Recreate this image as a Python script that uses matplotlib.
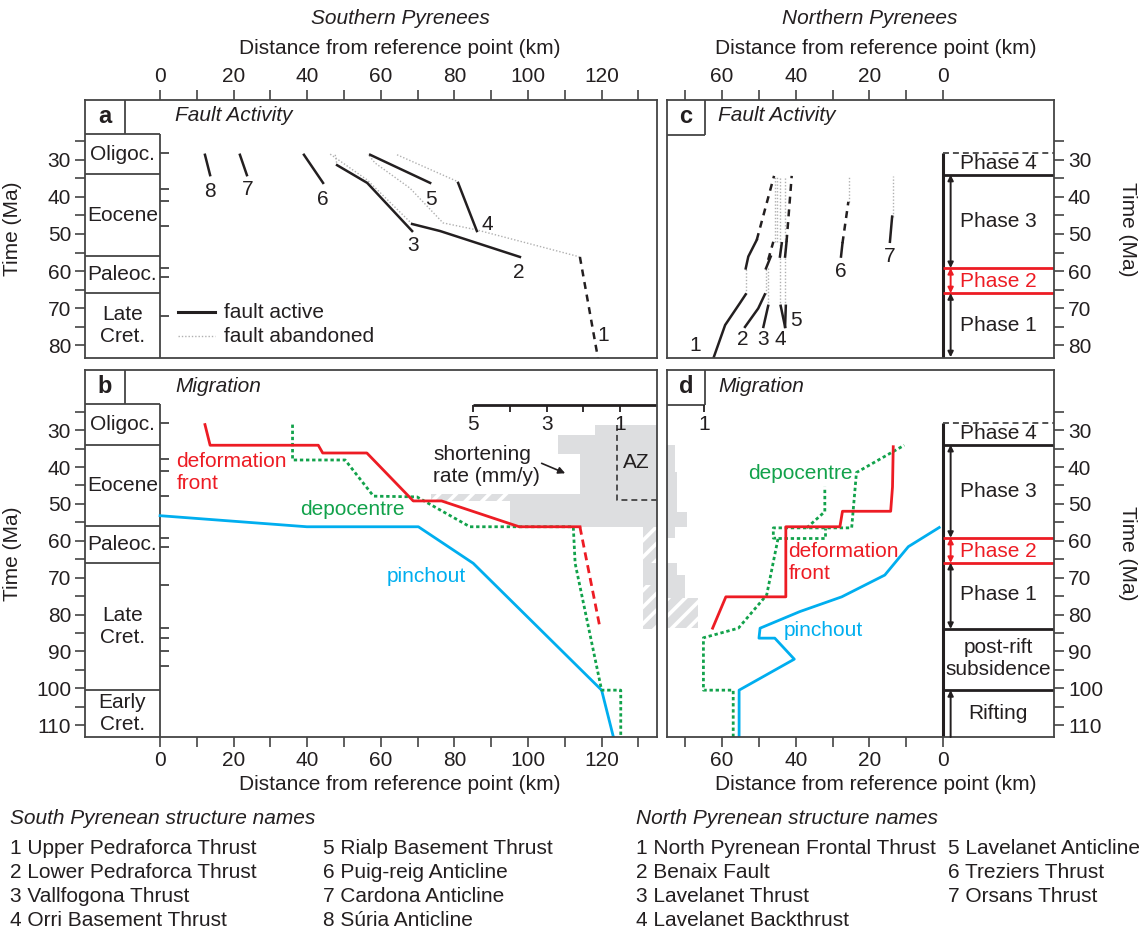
import matplotlib
matplotlib.use('Agg')
import matplotlib.pyplot as plt
from matplotlib.patches import Rectangle

plt.rcParams['font.family'] = ['Liberation Sans', 'DejaVu Sans']
plt.rcParams['font.size'] = 15
plt.rcParams['hatch.linewidth'] = 2.6
plt.rcParams['axes.linewidth'] = 1.3

INK = '#231f20'
FRAME = '#444444'
RED = '#ed1c24'
GREEN = '#12a24b'
CYAN = '#00aeef'
GREY = '#dddee0'
ABAND = '#b0b0b0'

W, H = 1139, 936

# limites des axes (km, Ma)
S_XLIM = (-20.4, 135.05)
N_XLIM = (75.0, -30.2)
A_YLIM = (83.5, 13.8)
B_YLIM = (113.2, 13.7)

# ====================== échelle stratigraphique ======================
epoch_names = ['Oligoc.', 'Eocene', 'Paleoc.', 'Late\nCret.', 'Early\nCret.']
epoch_top = [23.0, 33.9, 56.0, 66.0, 100.5]
epoch_base = [33.9, 56.0, 66.0, 100.5, 145.0]
stage_ticks = [28.1, 37.8, 41.2, 47.8, 59.2, 61.6, 72.1, 83.6, 86.3, 89.8, 93.9]

# ====================== a : failles sud ======================
s_active_x = [[12.2, 13.6], [21.7, 23.6], [39.1, 44.3], [57.1, 73.4],
              [81.0, 86.1], [48.1, 56.3, 68.5], [68.5, 76.1, 97.8]]
s_active_t = [[28.6, 34.1], [28.6, 34.1], [28.6, 36.2], [28.6, 36.2],
              [36.2, 49.2], [31.4, 36.2, 49.2], [47.3, 49.2, 56.2]]
s_uncert_x = [114.1, 119.0]
s_uncert_t = [56.2, 83.5]
s_aband_x = [[64.4, 81.0], [47.6, 48.1], [68.5, 56.3, 46.2],
             [114.1, 86.1, 76.9, 67.9, 58.4, 56.5]]
s_aband_t = [[28.6, 35.9], [28.6, 31.4], [47.3, 35.4, 28.4],
             [56.2, 48.9, 47.0, 37.6, 30.8, 28.4]]
s_num = ['1', '2', '3', '4', '5', '6', '7', '8']
s_num_x = [120.4, 97.6, 68.8, 88.9, 73.6, 44.2, 23.9, 13.6]
s_num_t = [77.3, 60.3, 53.0, 47.3, 40.8, 40.8, 38.0, 38.6]

# ====================== c : failles nord ======================
n_active_x = [[62.4, 59.2, 55.2, 53.6], [53.6, 52.9, 50.6], [53.8, 50.2, 48.4],
              [48.1, 46.8], [48.8, 47.5], [44.1, 42.9], [42.7, 42.9],
              [44.3, 43.8], [42.9, 42.5], [27.7, 27.3], [14.4, 13.8]]
n_active_t = [[83.6, 74.6, 68.7, 66.3], [59.3, 56.1, 51.6], [75.1, 70.1, 66.3],
              [59.3, 56.1], [75.1, 69.4], [69.4, 75.1], [69.4, 75.1],
              [56.1, 52.5], [56.1, 52.1], [56.1, 52.5], [52.1, 45.3]]
n_uncert_x = [[50.6, 45.9], [47.5, 46.1], [42.5, 41.1], [27.3, 25.7]]
n_uncert_t = [[51.6, 34.3], [57.0, 52.1], [52.1, 34.3], [52.5, 41.3]]
n_aband_x = [[53.6, 53.6], [48.1, 48.1], [47.5, 47.5], [45.7, 45.7], [45.2, 45.2],
             [44.2, 44.2], [42.8, 42.8], [25.5, 25.5], [13.7, 13.7]]
n_aband_t = [[66.3, 59.3], [66.3, 59.3], [69.4, 59.3], [52.1, 34.3], [52.1, 34.3],
             [69.4, 34.5], [69.4, 34.5], [41.3, 34.5], [45.3, 34.3]]
n_num = ['1', '2', '3', '4', '5', '6', '7']
n_num_x = [67.4, 54.4, 49.0, 44.1, 39.9, 27.8, 14.4]
n_num_t = [80.0, 78.6, 78.6, 78.6, 73.5, 60.2, 56.1]

# ====================== b : migration sud ======================
s_front_x = [12.2, 13.6, 43.0, 44.2, 56.2, 68.8, 76.5, 97.6, 114.1]
s_front_t = [28.5, 34.1, 34.1, 36.2, 36.2, 49.2, 49.2, 56.2, 56.2]
s_front_unc_x = [114.1, 119.6]
s_front_unc_t = [56.2, 83.8]
s_depo_x = [36.0, 36.0, 50.3, 58.0, 69.8, 84.2, 112.3, 112.8, 120.0, 125.2, 125.2]
s_depo_t = [28.5, 38.1, 38.1, 47.9, 48.1, 56.2, 56.2, 66.1, 100.5, 100.5, 113.2]
s_pinch_x = [0.0, 39.9, 70.2, 85.1, 120.0, 123.2]
s_pinch_t = [53.2, 56.2, 56.2, 66.1, 100.5, 113.2]

# taux de raccourcissement sud (mm/a)
s_rate_top = [28.5, 31.4, 36.6, 47.4, 56.2, 66.1, 72.0]
s_rate_base = [31.4, 36.6, 47.4, 56.2, 66.1, 72.0, 83.8]
s_rate = [1.68, 2.68, 2.09, 4.0, 0.37, 0.37, 0.37]
s_rate_hatch = [False, False, False, False, True, False, True]
s_rate_extra = (47.4, 49.3, 4.0, 6.15)   # partie hachurée incertaine
rate_ticks = [1, 2, 3, 4, 5]
rate_labels = ['1', '', '3', '', '5']

# ====================== d : migration nord ======================
n_front_x = [62.6, 59.0, 42.7, 42.7, 28.0, 27.3, 14.2, 13.7, 13.5]
n_front_t = [83.7, 75.2, 75.2, 56.2, 56.2, 52.0, 52.0, 45.4, 34.5]
n_depo_x = [57.0, 57.0, 65.1, 65.1, 55.6, 47.9, 44.8, 46.1, 46.1, 24.8, 23.5, 10.5]
n_depo_t = [113.2, 100.5, 100.5, 86.3, 83.7, 74.7, 59.3, 59.3, 56.5, 56.5, 41.5, 34.1]
n_depo2_x = [[44.8, 32.1, 32.1], [37.0, 32.1, 32.1]]
n_depo2_t = [[59.3, 59.3, 56.5], [56.5, 52.1, 45.4]]
n_pinch_x = [1.0, 9.4, 15.8, 27.5, 38.9, 49.7, 50.0, 45.7, 40.4, 55.4, 55.4]
n_pinch_t = [56.4, 61.6, 69.3, 75.2, 79.2, 83.7, 86.4, 86.4, 92.1, 100.5, 113.2]

n_rate_top = [34.1, 41.3, 52.1, 56.2, 66.1, 69.3, 75.6]
n_rate_base = [41.3, 52.1, 56.2, 59.3, 69.3, 75.6, 83.7]
n_rate = [0.22, 0.27, 0.54, 0.22, 0.27, 0.49, 0.84]
n_rate_hatch = [False, False, False, False, False, False, True]

# ====================== phases ======================
phase_names = ['Phase 4', 'Phase 3', 'Phase 2', 'Phase 1']
phase_t = [31.0, 46.6, 62.9, 74.7]
phase_col = [INK, INK, RED, INK]

south_names = ['1 Upper Pedraforca Thrust', '2 Lower Pedraforca Thrust', '3 Vallfogona Thrust',
               '4 Orri Basement Thrust', '5 Rialp Basement Thrust', '6 Puig-reig Anticline',
               '7 Cardona Anticline', '8 Súria Anticline']
north_names = ['1 North Pyrenean Frontal Thrust', '2 Benaix Fault', '3 Lavelanet Thrust',
               '4 Lavelanet Backthrust', '5 Lavelanet Anticline', '6 Treziers Thrust',
               '7 Orsans Thrust']


def line(ax, x, y, **kw):
    kw.setdefault('color', FRAME)
    kw.setdefault('lw', 1.3)
    ax.plot(x, y, solid_capstyle='butt', **kw)


def setup(ax, xlim, ylim, top, left, yt_max):
    ax.set_xlim(*xlim)
    ax.set_ylim(*ylim)
    for s in ax.spines.values():
        s.set_color(FRAME)
    if xlim[0] < xlim[1]:
        ax.set_xticks(range(0, 121, 20))
        ax.set_xticks(range(10, 131, 20), minor=True)
    else:
        ax.set_xticks(range(0, 61, 20))
        ax.set_xticks(range(10, 71, 20), minor=True)
    ax.set_yticks(range(30, yt_max + 1, 10))
    ax.set_yticks(range(25, yt_max + 1, 5), minor=True)
    if top:
        ax.xaxis.tick_top()
    else:
        ax.xaxis.tick_bottom()
    if left:
        ax.yaxis.tick_left()
        ax.set_ylabel('Time (Ma)', color=INK)
        ax.yaxis.set_label_coords(-0.110, 0.5)
    else:
        ax.yaxis.tick_right()
        ax.yaxis.set_label_position('right')
        ax.set_ylabel('Time (Ma)', color=INK, rotation=-90, va='bottom')
        ax.yaxis.set_label_coords(1.165, 0.5)
    ax.tick_params(which='both', length=7, width=1.2, color=FRAME,
                   labelcolor=INK, pad=3, direction='out')


def epoch_column(ax, tbot, letter, title):
    xl = S_XLIM[0]
    ytop = ax.get_ylim()[1]
    line(ax, [0, 0], [23.0, tbot])
    line(ax, [xl, 0], [23.0, 23.0])
    line(ax, [-9.5, -9.5], [ytop, 23.0])
    for name, top, base in zip(epoch_names, epoch_top, epoch_base):
        if top >= tbot:
            continue
        if top > 23.0:
            line(ax, [xl, 0], [top, top])
        mid = (top + min(base, tbot)) / 2
        ax.text(-10.2, mid, name, ha='center', va='center', color=INK, linespacing=1.25)
    for t in stage_ticks:
        if t < tbot:
            line(ax, [0, 2.4], [t, t])
    ax.text(-15.0, 18.3, letter, ha='center', va='center', weight='bold', fontsize=17, color=INK)
    ax.text(4.1, 18.1, title, ha='left', va='center', style='italic', color=INK)


def letter_box(ax, letter, title):
    ytop = ax.get_ylim()[1]
    line(ax, [64.7, 64.7], [ytop, 23.2])
    line(ax, [75.0, 64.7], [23.2, 23.2])
    ax.text(69.8, 18.3, letter, ha='center', va='center', weight='bold', fontsize=17, color=INK)
    ax.text(61.1, 18.1, title, ha='left', va='center', style='italic', color=INK)


def varrow(ax, x, t0, t1, color, style='<|-|>'):
    ax.annotate('', xy=(x, t1), xytext=(x, t0),
                arrowprops=dict(arrowstyle=style, color=color, lw=1.4,
                                mutation_scale=8, shrinkA=0, shrinkB=0))


def phase_column(ax, tbot, full):
    xr = N_XLIM[1]
    line(ax, [0, 0], [28.1, tbot], color=INK, lw=2.2)
    line(ax, [0, xr], [28.1, 28.1], color=FRAME, dashes=(3.3, 2.2))
    line(ax, [0, xr], [34.0, 34.0], color=INK, lw=2)
    line(ax, [0, xr], [59.2, 59.2], color=RED, lw=2)
    line(ax, [0, xr], [66.0, 66.0], color=RED, lw=2)
    for name, t, c in zip(phase_names, phase_t, phase_col):
        ax.text(-15.0, t, name, ha='center', va='center', color=c)
    p1_end = 83.9 if full else tbot - 0.2
    varrow(ax, -2.1, 34.0, 59.2, INK)
    varrow(ax, -2.1, 59.2, 66.0, RED)
    varrow(ax, -2.1, 66.0, p1_end, INK)
    if full:
        line(ax, [0, xr], [83.9, 83.9], color=INK, lw=2)
        line(ax, [0, xr], [100.5, 100.5], color=INK, lw=2)
        ax.text(-15.0, 91.9, 'post-rift\nsubsidence', ha='center', va='center',
                color=INK, linespacing=1.25)
        ax.text(-15.0, 106.8, 'Rifting', ha='center', va='center', color=INK)
        varrow(ax, -2.1, tbot, 100.5, INK, style='-|>')


def rate_blocks(ax, tops, bases, rates, hatches, x0, sign):
    for t0, t1, r, h in zip(tops, bases, rates, hatches):
        ax.add_patch(Rectangle((x0, t0), sign * 10 * r, t1 - t0,
                               facecolor=GREY, edgecolor='white' if h else 'none',
                               hatch='//' if h else None, lw=0, zorder=0))


fig = plt.figure(figsize=(W / 100, H / 100), dpi=100)


def add_ax(x0, y0, x1, y1):
    return fig.add_axes([x0 / W, 1 - y1 / H, (x1 - x0) / W, (y1 - y0) / H])


ax_a = add_ax(85, 100, 657, 358)
ax_b = add_ax(85, 370, 657, 737)
ax_c = add_ax(667, 100, 1054, 358)
ax_d = add_ax(667, 370, 1054, 737)

setup(ax_a, S_XLIM, A_YLIM, True, True, 80)
setup(ax_b, S_XLIM, B_YLIM, False, True, 110)
setup(ax_c, N_XLIM, A_YLIM, True, False, 80)
setup(ax_d, N_XLIM, B_YLIM, False, False, 110)

# ---------------- a ----------------
epoch_column(ax_a, A_YLIM[0], 'a', 'Fault Activity')
for x, t in zip(s_aband_x, s_aband_t):
    ax_a.plot(x, t, color=ABAND, lw=1.0, dashes=(1, 1.4))
for x, t in zip(s_active_x, s_active_t):
    ax_a.plot(x, t, color=INK, lw=1.8)
ax_a.plot(s_uncert_x, s_uncert_t, color=INK, lw=1.8, dashes=(2.8, 2.3))
for s, x, t in zip(s_num, s_num_x, s_num_t):
    ax_a.text(x, t, s, ha='center', va='center', color=INK)
ax_a.plot([4.9, 15.0], [71.1, 71.1], color=INK, lw=2.2)
ax_a.plot([4.9, 15.0], [77.6, 77.6], color=ABAND, lw=1.0, dashes=(1, 1.4))
ax_a.text(17.4, 71.1, 'fault active', va='center', color=INK)
ax_a.text(17.4, 77.6, 'fault abandoned', va='center', color=INK)

# ---------------- b ----------------
epoch_column(ax_b, B_YLIM[0], 'b', 'Migration')
rate_blocks(ax_b, s_rate_top, s_rate_base, s_rate, s_rate_hatch, S_XLIM[1], -1)
t0, t1, r0, r1 = s_rate_extra
ax_b.add_patch(Rectangle((S_XLIM[1] - 10 * r1, t0), 10 * (r1 - r0), t1 - t0,
                         facecolor=GREY, edgecolor='white', hatch='//', lw=0, zorder=0))
rx = [S_XLIM[1] - 10 * r for r in rate_ticks]
line(ax_b, [rx[-1], S_XLIM[1]], [23.2, 23.2], color=INK, lw=2)
for x, lab in zip(rx, rate_labels):
    line(ax_b, [x, x], [23.2, 25.1], color=INK, lw=1.3)
    if lab:
        ax_b.text(x, 28.4, lab, ha='center', va='center', color=INK)
line(ax_b, [124.1, 124.1, S_XLIM[1]], [28.6, 49.0, 49.0], color=FRAME, dashes=(3.3, 2.2))
ax_b.text(129.4, 38.7, 'AZ', ha='center', va='center', color=INK)
ax_b.text(74.2, 39.5, 'shortening\nrate (mm/y)', ha='left', va='center', color=INK,
          linespacing=1.2)
ax_b.annotate('', xy=(110.1, 41.7), xytext=(103.7, 39.0),
              arrowprops=dict(arrowstyle='-|>', color=INK, lw=1.2, mutation_scale=10,
                              shrinkA=0, shrinkB=0))
ax_b.plot(s_pinch_x, s_pinch_t, color=CYAN, lw=2)
ax_b.plot(s_depo_x, s_depo_t, color=GREEN, lw=2, dashes=(1.2, 1.0))
ax_b.plot(s_front_x, s_front_t, color=RED, lw=2)
ax_b.plot(s_front_unc_x, s_front_unc_t, color=RED, lw=2, dashes=(2.9, 1.8))
ax_b.text(4.4, 41.5, 'deformation\nfront', ha='left', va='center', color=RED, linespacing=1.25)
ax_b.text(38.0, 51.4, 'depocentre', ha='left', va='center', color=GREEN)
ax_b.text(61.7, 69.8, 'pinchout', ha='left', va='center', color=CYAN)

# ---------------- c ----------------
letter_box(ax_c, 'c', 'Fault Activity')
phase_column(ax_c, A_YLIM[0], False)
for x, t in zip(n_aband_x, n_aband_t):
    ax_c.plot(x, t, color=ABAND, lw=1.0, dashes=(1, 1.4))
for x, t in zip(n_active_x, n_active_t):
    ax_c.plot(x, t, color=INK, lw=1.8)
for x, t in zip(n_uncert_x, n_uncert_t):
    ax_c.plot(x, t, color=INK, lw=1.8, dashes=(2.8, 2.3))
for s, x, t in zip(n_num, n_num_x, n_num_t):
    ax_c.text(x, t, s, ha='center', va='center', color=INK)

# ---------------- d ----------------
letter_box(ax_d, 'd', 'Migration')
phase_column(ax_d, B_YLIM[0], True)
rate_blocks(ax_d, n_rate_top, n_rate_base, n_rate, n_rate_hatch, N_XLIM[0], -1)
line(ax_d, [65.0, 65.0], [23.2, 25.1], color=INK, lw=1.3)
ax_d.text(65.0, 28.4, '1', ha='center', va='center', color=INK)
ax_d.plot(n_pinch_x, n_pinch_t, color=CYAN, lw=2)
ax_d.plot(n_depo_x, n_depo_t, color=GREEN, lw=2, dashes=(1.2, 1.0))
for x, t in zip(n_depo2_x, n_depo2_t):
    ax_d.plot(x, t, color=GREEN, lw=2, dashes=(1.2, 1.0))
ax_d.plot(n_front_x, n_front_t, color=RED, lw=2)
ax_d.text(52.9, 41.7, 'depocentre', ha='left', va='center', color=GREEN)
ax_d.text(42.0, 65.9, 'deformation\nfront', ha='left', va='center', color=RED, linespacing=1.25)
ax_d.text(43.2, 84.4, 'pinchout', ha='left', va='center', color=CYAN)

# ---------------- textes de la figure ----------------
def ftext(x, y, s, **kw):
    fig.text(x / W, 1 - y / H, s, va='center', color=INK, **kw)


ftext(400, 18, 'Southern Pyrenees', ha='center', style='italic')
ftext(870, 18, 'Northern Pyrenees', ha='center', style='italic')
ftext(400, 48, 'Distance from reference point (km)', ha='center')
ftext(876, 48, 'Distance from reference point (km)', ha='center')
ftext(400, 785, 'Distance from reference point (km)', ha='center')
ftext(876, 785, 'Distance from reference point (km)', ha='center')

rows = [848, 872, 897, 921]
ftext(10, 818, 'South Pyrenean structure names', style='italic')
for i, s in enumerate(south_names):
    ftext(10 if i < 4 else 323, rows[i % 4], s)
ftext(636, 818, 'North Pyrenean structure names', style='italic')
for i, s in enumerate(north_names):
    ftext(636 if i < 4 else 948, rows[i % 4], s)

fig.savefig('out.png', dpi=100)
